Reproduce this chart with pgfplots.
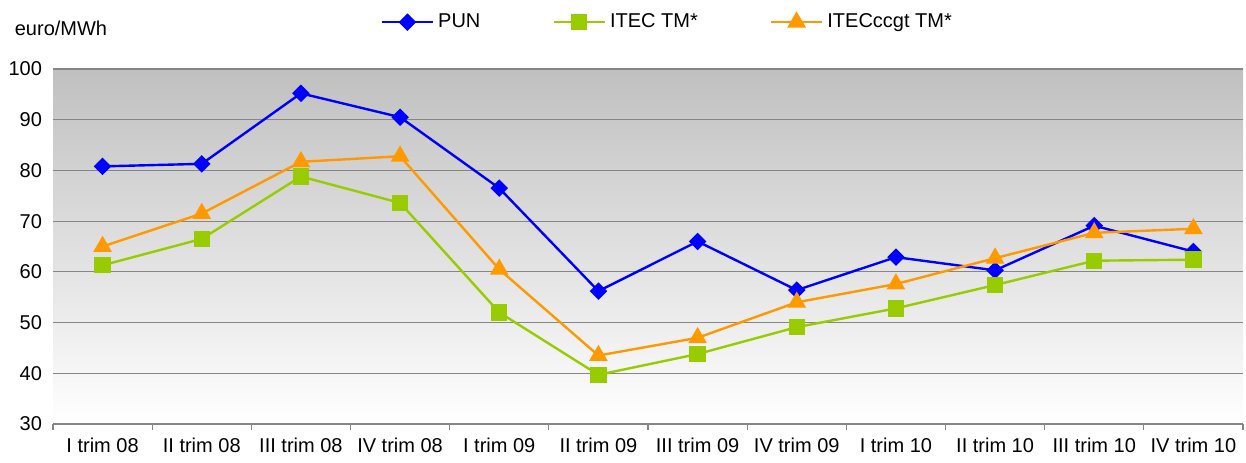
\documentclass[border=0pt]{standalone}
\usepackage{pgfplots}
\pgfplotsset{compat=1.18}
\usepackage{fontspec}
\setmainfont{Liberation Sans}

\definecolor{punblue}{RGB}{0,0,255}
\definecolor{itecgreen}{RGB}{153,204,0}
\definecolor{ccgtorange}{RGB}{255,153,0}
\definecolor{gridgray}{RGB}{134,134,134}

\begin{document}
\begin{tikzpicture}
\useasboundingbox (0,0) rectangle (623pt,231pt);
\begin{axis}[
    at={(26.5pt,19pt)}, anchor=south west,
    scale only axis,
    width=595pt, height=177.5pt,
    xmin=-0.5, xmax=11.5,
    ymin=30, ymax=100,
    xtick={0,...,11},
    xticklabels={I trim 08,II trim 08,III trim 08,IV trim 08,I trim 09,II trim 09,III trim 09,IV trim 09,I trim 10,II trim 10,III trim 10,IV trim 10},
    minor xtick={-0.5,0.5,...,11.5},
    ytick={30,40,...,100},
    major tick length=0pt,
    minor tick length=3pt,
    tick align=outside,
    tick style={gridgray, line width=0.6pt},
    axis x line*=bottom,
    axis y line*=left,
    x axis line style={-, draw=gridgray, line width=0.8pt},
    y axis line style={draw=none},
    ymajorgrids=true,
    grid style={gridgray, line width=0.6pt},
    axis background/.style={shade, top color={rgb,255:red,192;green,192;blue,192}, bottom color=white},
    /pgf/number format/assume math mode=true,
    tick label style={font=\fontsize{10}{12}\selectfont},
    yticklabel style={xshift=-2pt},
    xticklabel style={yshift=-3.5pt},
    legend style={at={(axis description cs:0.517,1.132)}, anchor=center,
        draw=none, fill=none, legend columns=-1,
        font=\fontsize{10}{12}\selectfont,
        /tikz/every even column/.append style={column sep=34pt}},
    legend image code/.code={\draw[mark repeat=2,mark phase=2] plot coordinates {(0cm,0cm)(0.45cm,0cm)(0.9cm,0cm)};},
    clip=false,
]
\addplot[punblue, line width=1.2pt, mark=square*, mark size=2.5pt, mark options={rotate=45, solid}]
coordinates {(0,80.8)(1,81.3)(2,95.2)(3,90.5)(4,76.5)(5,56.2)(6,66.0)(7,56.4)(8,62.9)(9,60.3)(10,69.1)(11,64.0)};
\addlegendentry{PUN}
\addplot[itecgreen, line width=1.2pt, mark=square*, mark size=3.5pt]
coordinates {(0,61.3)(1,66.5)(2,78.8)(3,73.6)(4,52.0)(5,39.7)(6,43.8)(7,49.1)(8,52.8)(9,57.4)(10,62.2)(11,62.4)};
\addlegendentry{ITEC TM*}
\addplot[ccgtorange, line width=1.2pt, mark=triangle*, mark size=4.2pt]
coordinates {(0,65.0)(1,71.5)(2,81.7)(3,82.8)(4,60.5)(5,43.5)(6,47.0)(7,54.0)(8,57.6)(9,62.7)(10,67.7)(11,68.5)};
\addlegendentry{ITECccgt TM*}
\node[anchor=west, font=\fontsize{10}{12}\selectfont] at (axis description cs:-0.038,1.115) {euro/MWh};
\end{axis}
\end{tikzpicture}
\end{document}
